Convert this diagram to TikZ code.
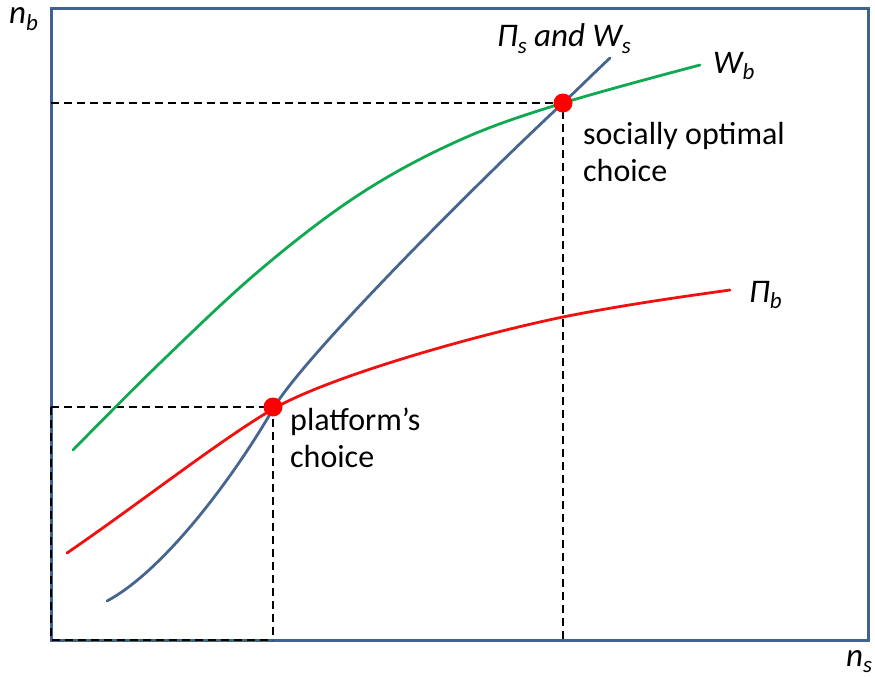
\documentclass[tikz,border=0pt]{standalone}
\usepackage{fontspec}
\setmainfont{Carlito}
\definecolor{frameblue}{HTML}{41618F}
\definecolor{curveblue}{HTML}{46658F}
\definecolor{curvegreen}{HTML}{10A850}
\definecolor{curvered}{HTML}{F01010}
\newcommand{\sbx}[1]{\raisebox{-6pt}{\fontsize{23}{23}\selectfont #1}}
\tikzset{
  frame/.style={draw=frameblue, line width=3pt},
  guide/.style={draw=black, line width=1.6pt, dash pattern=on 8pt off 5pt},
  curve/.style={line width=2.8pt, line cap=round},
  dot/.style={circle, fill=red, inner sep=0pt, minimum size=19pt},
  mlabel/.style={font=\fontsize{33}{36}\selectfont\itshape, inner sep=0pt, anchor=base west},
  tlabel/.style={font=\fontsize{32}{37}\selectfont, inner sep=0pt, anchor=north west, align=left},
}
\begin{document}
\begin{tikzpicture}[x=1pt,y=-1pt]
\useasboundingbox (0,0) rectangle (875,677);
\draw[frame] (51,9) rectangle (868,640);
% guides
\draw[guide] (51,407) -- (273,407) -- (273,640);
\draw[guide] (51,103) -- (563,103) -- (563,640);
\draw[guide] (51,407) -- (51,640) -- (273,640);
% curves
\draw[curve, curvegreen] plot[smooth, tension=0.6] coordinates {(73,450) (160,363) (260,270) (360,194) (460,140) (563,103) (700,65)};
\draw[curve, curvered] (67,553) .. controls (140,503) and (220,440) .. (273,409)
  .. controls (330,376) and (480,334) .. (563,317)
  .. controls (620,305.5) and (680,297) .. (730,290);
\draw[curve, curveblue] (107,601) .. controls (165,570) and (235,475) .. (273,409)
  .. controls (303,357) and (480,180) .. (563,103)
  .. controls (580,87) and (595,72) .. (610,58);
% dots
\node[dot] (opt) at (563,103) {};
\node[dot] (plat) at (273,407) {};
% labels
\node[mlabel] (nb) at (9,24) {n\sbx{b}};
\node[mlabel] (ns) at (846,666) {n\sbx{s}};
\node[mlabel] (pisws) at (497,47) {Π\sbx{s} and W\sbx{s}};
\node[mlabel] (wb) at (713,74) {W\sbx{b}};
\node[mlabel] (pib) at (749,302) {Π\sbx{b}};
\node[tlabel] (soc) at (583,122) {socially optimal\\choice};
\node[tlabel] (platl) at (290,408) {platform’s\\choice};
\end{tikzpicture}
\end{document}
